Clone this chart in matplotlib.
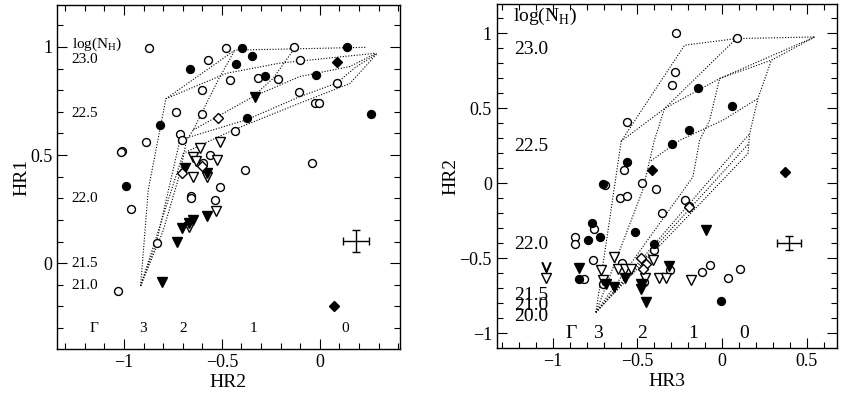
import numpy as np
import matplotlib.pyplot as plt
from matplotlib.ticker import MultipleLocator

plt.rcParams['font.family'] = ['Liberation Serif', 'DejaVu Serif']
plt.rcParams['mathtext.fontset'] = 'custom'
plt.rcParams['mathtext.rm'] = 'Liberation Serif'

### left panel: HR1 vs HR2
L_open_circ = [(-0.872, 0.997), (-0.48, 0.997), (-0.57, 0.94), (-0.133, 0.999), (-0.099, 0.94),
               (-0.459, 0.847), (-0.315, 0.858), (-0.213, 0.85), (-0.604, 0.801), (-0.105, 0.79),
               (0.088, 0.832), (-0.026, 0.74), (-0.003, 0.74), (-0.735, 0.698), (-0.604, 0.689),
               (-0.714, 0.598), (-0.702, 0.57), (-0.889, 0.559), (-1.008, 0.52), (-1.015, 0.512),
               (-0.434, 0.609), (-0.561, 0.50), (-0.595, 0.462), (-0.383, 0.431), (-0.042, 0.462),
               (-0.51, 0.351), (-0.66, 0.311), (-0.66, 0.30), (-0.536, 0.293), (-0.966, 0.251),
               (-0.833, 0.092), (-1.032, -0.131)]
L_fill_circ = [(-0.395, 0.994), (-0.344, 0.96), (-0.663, 0.898), (-0.429, 0.92), (-0.281, 0.867),
               (0.139, 0.999), (-0.017, 0.871), (0.264, 0.69), (-0.374, 0.67), (-0.816, 0.639),
               (-0.991, 0.359)]
L_fill_tri = [(-0.332, 0.77), (-0.689, 0.439), (-0.578, 0.416), (-0.578, 0.219), (-0.646, 0.2),
              (-0.667, 0.185), (-0.706, 0.162), (-0.731, 0.10), (-0.808, -0.085)]
L_open_tri = [(-0.51, 0.558), (-0.612, 0.532), (-0.646, 0.493), (-0.527, 0.478), (-0.63, 0.47),
              (-0.646, 0.40), (-0.578, 0.398), (-0.531, 0.243), (-0.667, 0.166)]
L_open_dia = [(-0.519, 0.67), (-0.706, 0.419), (-0.60, 0.45)]
L_fill_dia = [(0.088, 0.929), (0.073, -0.196)]
L_err = (0.184, 0.103, 0.065, 0.052)   # x, y, xerr, yerr

L_grid = [
    [(-0.915, -0.105), (-0.876, 0.339), (-0.786, 0.76), (-0.434, 0.985), (0.235, 0.998)],
    [(-0.786, 0.76), (-0.476, 0.878), (-0.204, 0.925), (0.289, 0.971)],
    [(-0.915, -0.105), (-0.80, 0.15), (-0.714, 0.416), (-0.68, 0.57), (-0.646, 0.616),
     (-0.519, 0.847), (-0.434, 0.985)],
    [(-0.646, 0.616), (-0.34, 0.77), (-0.102, 0.863), (0.153, 0.909), (0.289, 0.971)],
    [(-0.915, -0.105), (-0.833, 0.10), (-0.714, 0.57), (-0.374, 0.663), (-0.102, 0.77),
     (0.085, 0.832), (0.187, 0.909), (0.289, 0.966)],
    [(-0.915, -0.105), (-0.697, 0.508), (-0.442, 0.616), (-0.102, 0.74), (0.153, 0.83),
     (0.289, 0.966)],
    [(-0.34, 0.77), (-0.238, 0.855), (-0.128, 0.994)],
]
L_nh_labels = ['23.0', '22.5', '22.0', '21.5', '21.0']
L_nh_y = [0.94, 0.693, 0.297, 0.0, -0.105]
L_gam_labels = ['Γ', '3', '2', '1', '0']
L_gam_x = [-1.151, -0.901, -0.70, -0.337, 0.128]

### right panel: HR2 vs HR3
R_open_circ = [(-0.271, 1.004), (0.089, 0.971), (-0.279, 0.742), (-0.299, 0.653), (-0.563, 0.411),
               (-0.582, 0.091), (-0.69, -0.01), (-0.472, 0.002), (-0.389, -0.036), (-0.602, -0.095),
               (-0.563, -0.087), (-0.354, -0.198), (-0.218, -0.113), (-0.193, -0.151),
               (-0.754, -0.302), (-0.868, -0.358), (-0.868, -0.407), (-0.764, -0.513),
               (-0.813, -0.636), (-0.705, -0.669), (-0.59, -0.531), (-0.4, -0.442),
               (-0.31, -0.58), (-0.12, -0.591), (-0.07, -0.547), (0.034, -0.629), (0.103, -0.569),
               (-0.464, -0.66)]
R_fill_circ = [(-0.141, 0.636), (0.057, 0.516), (-0.197, 0.358), (-0.297, 0.264), (-0.561, 0.142),
               (-0.705, -0.007), (-0.77, -0.264), (-0.72, -0.358), (-0.793, -0.376),
               (-0.517, -0.324), (-0.405, -0.407), (-0.842, -0.636), (-0.005, -0.784)]
R_fill_tri = [(-0.094, -0.313), (-0.842, -0.562), (-0.685, -0.669), (-0.636, -0.691),
              (-0.576, -0.629), (-0.478, -0.669), (-0.478, -0.702), (-0.452, -0.791),
              (-0.311, -0.55)]
R_open_tri = [(-1.04, -0.63), (-0.636, -0.491), (-0.714, -0.58), (-0.705, -0.647), (-0.616, -0.569),
              (-0.576, -0.569), (-0.537, -0.569), (-0.409, -0.513), (-0.458, -0.629),
              (-0.37, -0.629), (-0.33, -0.629), (-0.183, -0.647)]
R_open_dia = [(-0.478, -0.495), (-0.452, -0.535), (-0.468, -0.569), (-0.193, -0.16)]
R_fill_dia = [(-0.415, 0.091), (0.369, 0.073)]
R_limit = [(-1.04, -0.555)]
R_err = (0.394, -0.398, 0.072, 0.048)

P0 = (-0.745, -0.86)
R_grid = [
    [P0, (-0.596, 0.28), (-0.222, 0.92), (0.083, 0.964), (0.546, 0.975)],
    [(-0.596, 0.28), (-0.34, 0.498), (-0.015, 0.698), (0.29, 0.82), (0.546, 0.975)],
    [P0, (-0.47, -0.05), (-0.40, 0.287), (-0.34, 0.498), (0.083, 0.964)],
    [P0, (-0.173, 0.042), (-0.133, 0.287), (-0.074, 0.42), (-0.015, 0.698), (0.546, 0.975)],
    [P0, (0.152, 0.198), (0.162, 0.331), (0.211, 0.565), (0.29, 0.82)],
    [P0, (0.157, 0.265)],
    [P0, (0.162, 0.331)],
    [(-0.42, 0.15), (-0.25, 0.287), (0.004, 0.42), (0.211, 0.565)],
]
R_nh_labels = ['23.0', '22.5', '22.0', '21.5', '21.0', '20.0']
R_nh_y = [0.891, 0.247, -0.409, -0.747, -0.813, -0.891]
R_gam_labels = ['Γ', '3', '2', '1', '0']
R_gam_x = [-0.891, -0.734, -0.472, -0.173, 0.132]


def scatter(ax, pts, marker, filled, ms):
    pts = np.array(pts)
    ax.plot(pts[:, 0], pts[:, 1], ls='none', marker=marker, ms=ms,
            mfc='black' if filled else 'white', mec='black', mew=1.0, zorder=3)


def style_axes(ax, xmaj, ymaj):
    ax.xaxis.set_major_locator(MultipleLocator(xmaj))
    ax.yaxis.set_major_locator(MultipleLocator(ymaj))
    ax.xaxis.set_minor_locator(MultipleLocator(0.1))
    ax.yaxis.set_minor_locator(MultipleLocator(0.1))
    ax.tick_params(which='both', direction='in', top=True, right=True, labelsize=13)
    ax.tick_params(which='major', length=7, width=0.8)
    ax.tick_params(which='minor', length=4, width=0.8)
    for s in ax.spines.values():
        s.set_linewidth(1.0)


def draw_panel(ax, grid, oc, fc, ft, ot, od, fd, err):
    for line in grid:
        line = np.array(line)
        ax.plot(line[:, 0], line[:, 1], ls=(0, (1, 1.5)), color='black', lw=0.8, zorder=1)
    scatter(ax, oc, 'o', False, 5.7)
    scatter(ax, fc, 'o', True, 5.7)
    scatter(ax, ot, 'v', False, 6.5)
    scatter(ax, ft, 'v', True, 6.5)
    scatter(ax, od, 'D', False, 5.5)
    scatter(ax, fd, 'D', True, 5.5)
    ax.errorbar(err[0], err[1], xerr=err[2], yerr=err[3], fmt='none', ecolor='black',
                elinewidth=1.0, capsize=3, capthick=1.0)


fig = plt.figure(figsize=(8.42, 3.95), dpi=100)

ax1 = fig.add_axes([0.0677, 0.1165, 0.407, 0.871])
draw_panel(ax1, L_grid, L_open_circ, L_fill_circ, L_fill_tri, L_open_tri,
           L_open_dia, L_fill_dia, L_err)
ax1.set_xlim(-1.342, 0.408)
ax1.set_ylim(-0.397, 1.194)
style_axes(ax1, 0.5, 0.5)
ax1.set_xticks([-1, -0.5, 0])
ax1.set_yticks([0, 0.5, 1])
ax1.set_xticklabels(['\u22121', '\u22120.5', '0'])
ax1.set_yticklabels(['0', '0.5', '1'])
ax1.set_xlabel('HR2', fontsize=14, labelpad=2)
ax1.set_ylabel('HR1', fontsize=14, labelpad=0)
ax1.text(-1.267, 1.012, r'log(N$_{\rm H}$)', fontsize=11, va='center', ha='left')
for lab, y in zip(L_nh_labels, L_nh_y):
    ax1.text(-1.267, y, lab, fontsize=11, va='center', ha='left')
for lab, x in zip(L_gam_labels, L_gam_x):
    ax1.text(x, -0.30, lab, fontsize=11, va='center', ha='center')

ax2 = fig.add_axes([0.590, 0.119, 0.404, 0.871])
draw_panel(ax2, R_grid, R_open_circ, R_fill_circ, R_fill_tri, R_open_tri,
           R_open_dia, R_fill_dia, R_err)
lim = np.array(R_limit)
ax2.plot(lim[:, 0], lim[:, 1], ls='none', marker=r'$\vee$', ms=7, color='black', zorder=3)
ax2.set_xlim(-1.33, 0.677)
ax2.set_ylim(-1.098, 1.195)
style_axes(ax2, 0.5, 0.5)
ax2.set_xticks([-1, -0.5, 0, 0.5])
ax2.set_yticks([-1, -0.5, 0, 0.5, 1])
ax2.set_xticklabels(['\u22121', '\u22120.5', '0', '0.5'])
ax2.set_yticklabels(['\u22121', '\u22120.5', '0', '0.5', '1'])
ax2.set_xlabel('HR3', fontsize=14, labelpad=2)
ax2.set_ylabel('HR2', fontsize=14, labelpad=0)
ax2.text(-1.236, 1.109, r'log(N$_{\rm H}$)', fontsize=14, va='center', ha='left')
for lab, y in zip(R_nh_labels, R_nh_y):
    ax2.text(-1.226, y, lab, fontsize=14, va='center', ha='left')
for lab, x in zip(R_gam_labels, R_gam_x):
    ax2.text(x, -1.0, lab, fontsize=14, va='center', ha='center')

fig.savefig('out.png', dpi=100, facecolor='white')
